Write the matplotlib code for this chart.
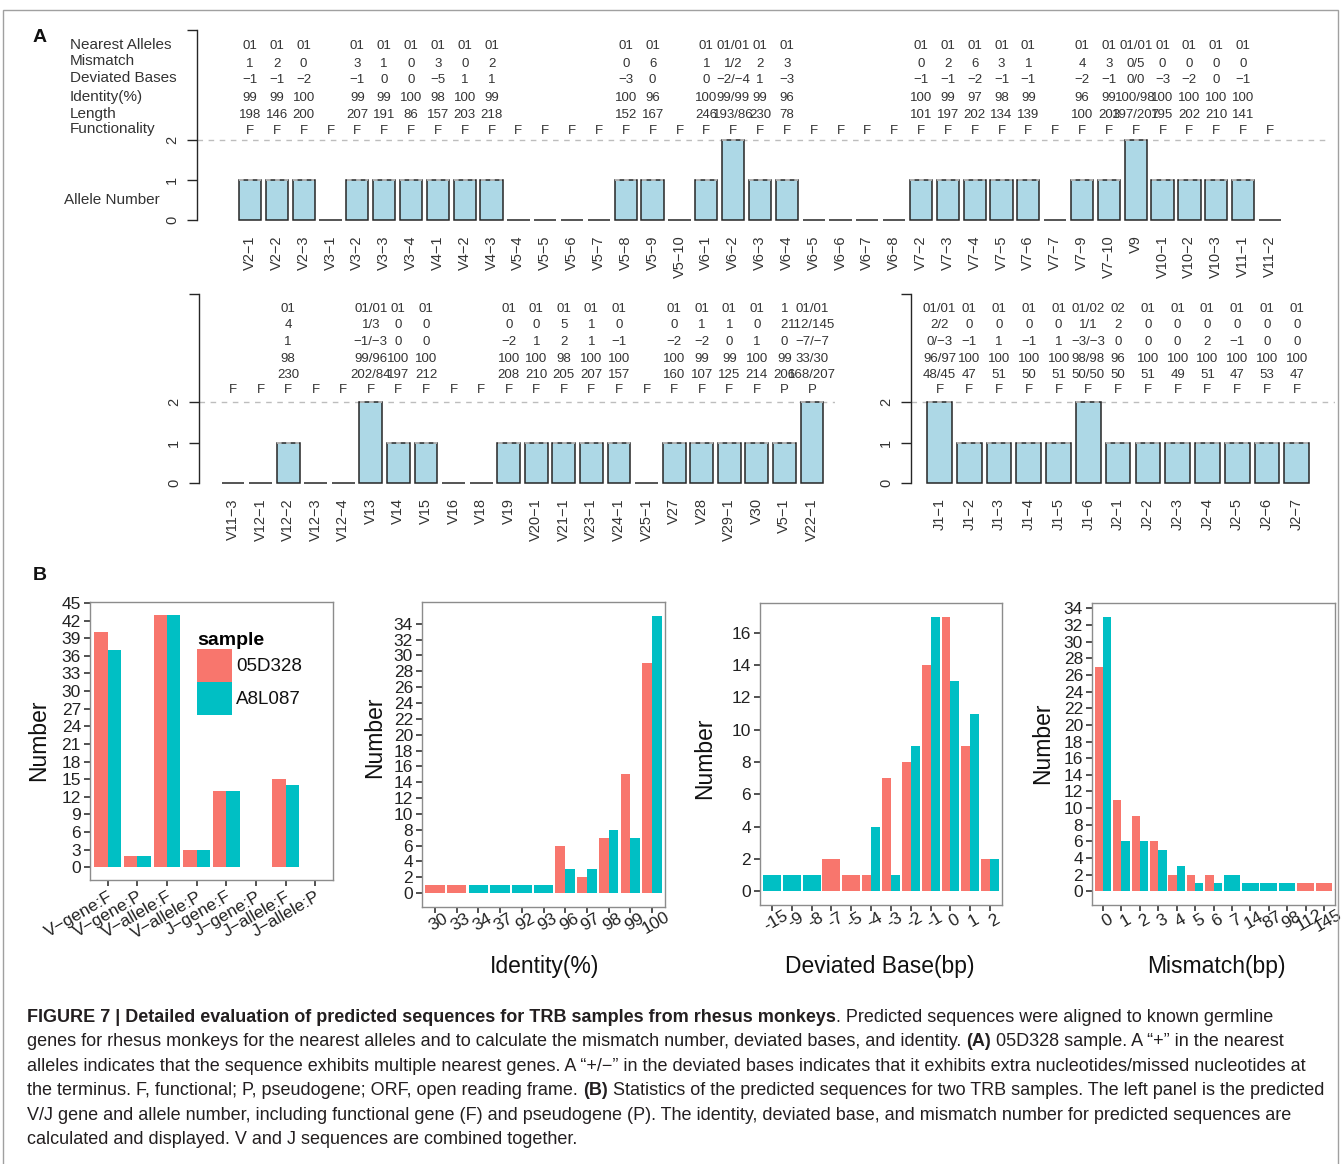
import numpy as np
import matplotlib
matplotlib.use('Agg')
import matplotlib.pyplot as plt
from matplotlib.patches import Rectangle, Patch
from matplotlib import font_manager

# ------------------------------------------------------------------ data: panel A
genes_top = ['V2-1', 'V2-2', 'V2-3', 'V3-1', 'V3-2', 'V3-3', 'V3-4', 'V4-1', 'V4-2', 'V4-3',
             'V5-4', 'V5-5', 'V5-6', 'V5-7', 'V5-8', 'V5-9', 'V5-10', 'V6-1', 'V6-2', 'V6-3',
             'V6-4', 'V6-5', 'V6-6', 'V6-7', 'V6-8', 'V7-2', 'V7-3', 'V7-4', 'V7-5', 'V7-6',
             'V7-7', 'V7-9', 'V7-10', 'V9', 'V10-1', 'V10-2', 'V10-3', 'V11-1', 'V11-2']
count_top = [1, 1, 1, 0, 1, 1, 1, 1, 1, 1, 0, 0, 0, 0, 1, 1, 0, 1, 2, 1,
             1, 0, 0, 0, 0, 1, 1, 1, 1, 1, 0, 1, 1, 2, 1, 1, 1, 1, 0]
allele_top = ['01', '01', '01', '', '01', '01', '01', '01', '01', '01',
              '', '', '', '', '01', '01', '', '01', '01/01', '01',
              '01', '', '', '', '', '01', '01', '01', '01', '01',
              '', '01', '01', '01/01', '01', '01', '01', '01', '']
mism_top = ['1', '2', '0', '', '3', '1', '0', '3', '0', '2',
            '', '', '', '', '0', '6', '', '1', '1/2', '2',
            '3', '', '', '', '', '0', '2', '6', '3', '1',
            '', '4', '3', '0/5', '0', '0', '0', '0', '']
dev_top = ['−1', '−1', '−2', '', '−1', '0', '0', '−5', '1', '1',
           '', '', '', '', '−3', '0', '', '0', '−2/−4', '1',
           '−3', '', '', '', '', '−1', '−1', '−2', '−1', '−1',
           '', '−2', '−1', '0/0', '−3', '−2', '0', '−1', '']
ident_top = ['99', '99', '100', '', '99', '99', '100', '98', '100', '99',
             '', '', '', '', '100', '96', '', '100', '99/99', '99',
             '96', '', '', '', '', '100', '99', '97', '98', '99',
             '', '96', '99', '100/98', '100', '100', '100', '100', '']
len_top = ['198', '146', '200', '', '207', '191', '86', '157', '203', '218',
           '', '', '', '', '152', '167', '', '246', '193/86', '230',
           '78', '', '', '', '', '101', '197', '202', '134', '139',
           '', '100', '203', '197/207', '195', '202', '210', '141', '']
func_top = ['F'] * 39

genes_mid = ['V11-3', 'V12-1', 'V12-2', 'V12-3', 'V12-4', 'V13', 'V14', 'V15', 'V16', 'V18', 'V19',
             'V20-1', 'V21-1', 'V23-1', 'V24-1', 'V25-1', 'V27', 'V28', 'V29-1', 'V30', 'V5-1', 'V22-1']
count_mid = [0, 0, 1, 0, 0, 2, 1, 1, 0, 0, 1, 1, 1, 1, 1, 0, 1, 1, 1, 1, 1, 2]
allele_mid = ['', '', '01', '', '', '01/01', '01', '01', '', '', '01',
              '01', '01', '01', '01', '', '01', '01', '01', '01', '1', '01/01']
mism_mid = ['', '', '4', '', '', '1/3', '0', '0', '', '', '0',
            '0', '5', '1', '0', '', '0', '1', '1', '0', '2', '112/145']
dev_mid = ['', '', '1', '', '', '−1/−3', '0', '0', '', '', '−2',
           '1', '2', '1', '−1', '', '−2', '−2', '0', '1', '0', '−7/−7']
ident_mid = ['', '', '98', '', '', '99/96', '100', '100', '', '', '100',
             '100', '98', '100', '100', '', '100', '99', '99', '100', '99', '33/30']
len_mid = ['', '', '230', '', '', '202/84', '197', '212', '', '', '208',
           '210', '205', '207', '157', '', '160', '107', '125', '214', '206', '168/207']
func_mid = ['F'] * 20 + ['P', 'P']

genes_j = ['J1-1', 'J1-2', 'J1-3', 'J1-4', 'J1-5', 'J1-6', 'J2-1', 'J2-2', 'J2-3', 'J2-4', 'J2-5', 'J2-6', 'J2-7']
count_j = [2, 1, 1, 1, 1, 2, 1, 1, 1, 1, 1, 1, 1]
allele_j = ['01/01', '01', '01', '01', '01', '01/02', '02', '01', '01', '01', '01', '01', '01']
mism_j = ['2/2', '0', '0', '0', '0', '1/1', '2', '0', '0', '0', '0', '0', '0']
dev_j = ['0/−3', '−1', '1', '−1', '1', '−3/−3', '0', '0', '0', '2', '−1', '0', '0']
ident_j = ['96/97', '100', '100', '100', '100', '98/98', '96', '100', '100', '100', '100', '100', '100']
len_j = ['48/45', '47', '51', '50', '51', '50/50', '50', '51', '49', '51', '47', '53', '47']
func_j = ['F'] * 13

row_labels = ['Nearest Alleles', 'Mismatch', 'Deviated Bases', 'Identity(%)', 'Length', 'Functionality']

# ------------------------------------------------------------------ data: panel B
samples = ['05D328', 'A8L087']
b1_cats = ['V-gene:F', 'V-gene:P', 'V-allele:F', 'V-allele:P', 'J-gene:F', 'J-gene:P', 'J-allele:F', 'J-allele:P']
b1_05 = [40, 2, 43, 3, 13, 0, 15, 0]
b1_a8 = [37, 2, 43, 3, 13, 0, 14, 0]

ident_cats = ['30', '33', '34', '37', '92', '93', '96', '97', '98', '99', '100']
ident_05 = [1, 1, 0, 0, 0, 0, 6, 2, 7, 15, 29]
ident_a8 = [0, 0, 1, 1, 1, 1, 3, 3, 8, 7, 35]

dev_cats = ['-15', '-9', '-8', '-7', '-5', '-4', '-3', '-2', '-1', '0', '1', '2']
dev_05 = [0, 0, 0, 2, 1, 1, 7, 8, 14, 17, 9, 2]
dev_a8 = [1, 1, 1, 0, 0, 4, 1, 9, 17, 13, 11, 2]

mism_cats = ['0', '1', '2', '3', '4', '5', '6', '7', '14', '87', '98', '112', '145']
mism_05 = [27, 11, 9, 6, 2, 2, 2, 0, 0, 0, 0, 1, 1]
mism_a8 = [33, 6, 6, 5, 3, 1, 1, 2, 1, 1, 1, 0, 0]

# ------------------------------------------------------------------ figure
W, H, DPI = 1342, 1164, 100
plt.rcParams['font.family'] = ['Liberation Sans', 'DejaVu Sans']
fig = plt.figure(figsize=(W / DPI, H / DPI), dpi=DPI)
fig.patch.set_facecolor('white')


def px_axes(l, t, r, b):
    return fig.add_axes([l / W, 1 - b / H, (r - l) / W, (b - t) / H])


def ftext(x, y, s, **kw):
    return fig.text(x / W, 1 - y / H, s, **kw)


# outer frame
fig.add_artist(Rectangle((3 / W, -0.01), (1338 - 3) / W, (1 - 10 / H) + 0.01,
                         transform=fig.transFigure, fill=False, ec='#a0a0a0', lw=1.0))

LB = '#ADD8E6'
EDGE = '#262626'
ATXT = '#333333'


def panel_a(box, c0, spacing, y0px, ppu, ytop_px, genes, counts, rows, rowy):
    l, t, r, b = box
    ax = px_axes(l, t, r, b)
    n = len(genes)
    x = np.arange(n)
    ax.set_xlim((l - c0) / spacing, (r - c0) / spacing)
    ax.set_ylim((y0px - b) / ppu, (y0px - t) / ppu)
    ytop = (y0px - ytop_px) / ppu
    ax.axhline(2, color='#bdbdbd', lw=1.0, ls=(0, (4, 4)), zorder=1)
    ax.bar(x, counts, width=0.83, color=LB, edgecolor=EDGE, linewidth=1.1, zorder=2, clip_on=False)
    cnt = np.asarray(counts)
    nz = np.nonzero(cnt)[0]
    ax.hlines(cnt[nz], nz - 0.4, nz + 0.4, colors='#cfcfcf', linestyles=(0, (3, 3)), lw=1.1, zorder=3)
    for k, vals in enumerate(rows):
        for i, s in enumerate(vals):
            if s:
                ax.text(i, rowy[k], s, ha='center', va='center', fontsize=9.5, color=ATXT, clip_on=False)
    for sp in ['top', 'right', 'bottom']:
        ax.spines[sp].set_visible(False)
    ax.spines['left'].set_bounds(0, ytop)
    ax.spines['left'].set_color(EDGE)
    ax.spines['left'].set_linewidth(1.0)
    ax.set_yticks([0, 1, 2, ytop])
    ax.set_yticklabels(['0', '1', '2', ''], rotation=90, va='center', fontsize=10.5)
    ax.tick_params(axis='y', length=7, width=1, pad=6, colors=EDGE, labelcolor=ATXT)
    ax.set_xticks(x)
    ax.set_xticklabels([g.replace('-', '−') for g in genes], rotation=90, fontsize=10.5, color=ATXT)
    ax.tick_params(axis='x', length=0, pad=8)
    ax.patch.set_visible(False)
    return ax


rowy_top = [4.34, 3.91, 3.49, 3.05, 2.63, 2.23]
rowy_bot = [4.29, 3.89, 3.48, 3.07, 2.66, 2.29]

panel_a((197, 28, 1330, 224), 250, 26.84, 220, 40, 30, genes_top, count_top,
        [allele_top, mism_top, dev_top, ident_top, len_top, func_top], rowy_top)
panel_a((199, 291, 835, 487), 233, 27.57, 483, 40.5, 294, genes_mid, count_mid,
        [allele_mid, mism_mid, dev_mid, ident_mid, len_mid, func_mid], rowy_bot)
panel_a((911, 291, 1335, 487), 939.5, 29.77, 483, 40.5, 294, genes_j, count_j,
        [allele_j, mism_j, dev_j, ident_j, len_j, func_j], rowy_bot)

for lab, yy in zip(row_labels, [45, 61, 78, 97, 114, 129]):
    ftext(70, yy, lab, fontsize=11, color=ATXT, ha='left', va='center')
ftext(64, 200, 'Allele Number', fontsize=11, color=ATXT, ha='left', va='center')
ftext(40, 38, 'A', fontsize=14, fontweight='bold', color='#111111', ha='center', va='center')
ftext(40, 575, 'B', fontsize=14, fontweight='bold', color='#111111', ha='center', va='center')

# ------------------------------------------------------------------ panel B
RED = '#F8766D'
TEAL = '#00BFC4'
TICKC = '#222222'


def panel_b(box, cats, v1, v2, yticks, rot_ha, ylab_xy, xtitle=None, xtitle_pos=None):
    ax = px_axes(*box)
    v1 = np.asarray(v1, float)
    v2 = np.asarray(v2, float)
    n = len(cats)
    x = np.arange(n)
    both = (v1 > 0) & (v2 > 0)
    w = np.where(both, 0.45, 0.9)
    x1 = np.where(both, x - 0.225, x)
    x2 = np.where(both, x + 0.225, x)
    m1 = v1 > 0
    m2 = v2 > 0
    ax.bar(x1[m1], v1[m1], w[m1], color=RED, zorder=2)
    ax.bar(x2[m2], v2[m2], w[m2], color=TEAL, zorder=2)
    m = max(v1.max(), v2.max())
    ax.set_ylim(-0.05 * m, 1.05 * m)
    ax.set_xlim(-0.6, n - 0.4)
    ax.set_yticks(yticks)
    ax.set_yticklabels([str(v) for v in yticks], fontsize=12.5, color=TICKC)
    ax.set_xticks(x)
    if rot_ha == 'right':
        ax.set_xticklabels([c.replace('-', '−') for c in cats], rotation=30, ha='right',
                           rotation_mode='anchor', fontsize=12.5, color=TICKC)
    else:
        ax.set_xticklabels(cats, rotation=30, ha='center', va='top', rotation_mode='anchor',
                           fontsize=12.5, color=TICKC)
    ax.tick_params(axis='both', length=4.5, width=1.1, colors=TICKC, pad=2)
    for sp in ax.spines.values():
        sp.set_color('#8c8c8c')
        sp.set_linewidth(1.0)
    ftext(ylab_xy[0], ylab_xy[1], 'Number', fontsize=16.5, rotation=90, ha='center', va='center', color='#111111')
    if xtitle:
        ftext(xtitle_pos[0], xtitle_pos[1], xtitle, fontsize=16.5, ha='center', va='center', color='#111111')
    return ax


ax1 = panel_b((90, 602, 333, 880), b1_cats, b1_05, b1_a8, list(range(0, 46, 3)), 'right', (39, 740))
fs = 13.5 * DPI / 72
handles = [Patch(facecolor=RED, edgecolor='none'), Patch(facecolor=TEAL, edgecolor='none')]
leg = ax1.legend(handles, samples, title='sample', loc='upper left',
                 bbox_to_anchor=(197 / W, 1 - 632 / H), bbox_transform=fig.transFigure,
                 frameon=False, borderpad=0, borderaxespad=0, labelspacing=0,
                 handlelength=35 / fs, handleheight=2.33, handletextpad=4 / fs,
                 prop={'size': 13.5}, title_fontproperties={'size': 14, 'weight': 'bold'},
                 alignment='left')
for t in leg.get_texts():
    t.set_color('#111111')

panel_b((422, 602, 665, 907), ident_cats, ident_05, ident_a8, list(range(0, 35, 2)), 'center', (375, 737),
        'Identity(%)', (545, 966))
panel_b((760, 603, 1002, 905), dev_cats, dev_05, dev_a8, list(range(0, 17, 2)), 'center', (705, 758),
        'Deviated Base(bp)', (880, 966))
panel_b((1092, 603, 1335, 905), mism_cats, mism_05, mism_a8, list(range(0, 35, 2)), 'center', (1043, 743),
        'Mismatch(bp)', (1216, 966))

# ------------------------------------------------------------------ caption
caption = [
    [("FIGURE 7 | Detailed evaluation of predicted sequences for TRB samples from rhesus monkeys", True),
     (". Predicted sequences were aligned to known germline", False)],
    [("genes for rhesus monkeys for the nearest alleles and to calculate the mismatch number, deviated bases, and identity. ", False),
     ("(A)", True), (" 05D328 sample. A “+” in the nearest", False)],
    [("alleles indicates that the sequence exhibits multiple nearest genes. A “+/−” in the deviated bases indicates that it exhibits extra nucleotides/missed nucleotides at", False)],
    [("the terminus. F, functional; P, pseudogene; ORF, open reading frame. ", False), ("(B)", True),
     (" Statistics of the predicted sequences for two TRB samples. The left panel is the predicted", False)],
    [("V/J gene and allele number, including functional gene (F) and pseudogene (P). The identity, deviated base, and mismatch number for predicted sequences are", False)],
    [("calculated and displayed. V and J sequences are combined together.", False)],
]
# right end (px) of each caption line in the reference
caption_ends = [1295, 1290, 1318, 1325, 1290, 577]


def has_font(name):
    try:
        font_manager.findfont(font_manager.FontProperties(family=name), fallback_to_default=False)
        return True
    except Exception:
        return False


cap_family = ['Liberation Sans Narrow', 'DejaVu Sans'] if has_font('Liberation Sans Narrow') else ['Liberation Sans', 'DejaVu Sans']
renderer = fig.canvas.get_renderer()


def seg_width(s, bold, size):
    t1 = fig.text(0, 0, '|' + s + '|', fontsize=size, fontweight='bold' if bold else 'normal', family=cap_family)
    t2 = fig.text(0, 0, '||', fontsize=size, fontweight='bold' if bold else 'normal', family=cap_family)
    w = t1.get_window_extent(renderer).width - t2.get_window_extent(renderer).width
    t1.remove()
    t2.remove()
    return w


base = 12.0
x_start = 27.0
ratios = []
for line, end in zip(caption, caption_ends):
    wl = sum(seg_width(s, b, base) for s, b in line)
    ratios.append((end - x_start) / wl)
cap_size = base * min(ratios[:5])
for li, line in enumerate(caption):
    x = x_start
    y = 1017 + 24.6 * li
    for s, b in line:
        ftext(x, y, s, fontsize=cap_size, fontweight='bold' if b else 'normal', family=cap_family,
              ha='left', va='center', color='#231f20')
        x += seg_width(s, b, cap_size)

fig.savefig('out.png', dpi=DPI, facecolor='white')
